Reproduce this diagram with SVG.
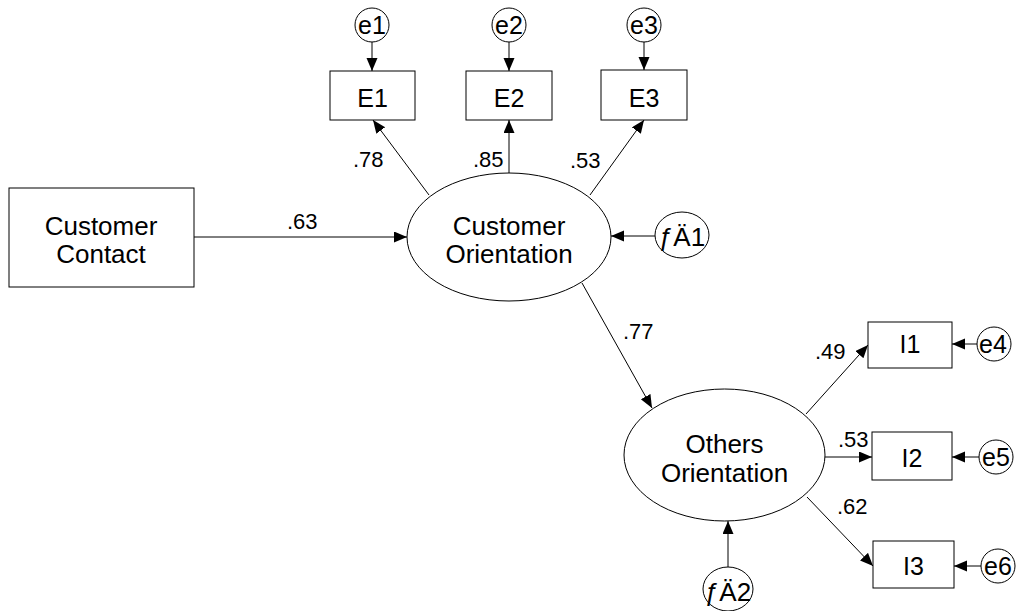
<svg xmlns="http://www.w3.org/2000/svg" width="1017" height="611" viewBox="0 0 1017 611">
<style>
.n{fill:#fff;stroke:#000;stroke-width:1}
.t{font-family:"Liberation Sans",Arial,sans-serif;fill:#000;text-anchor:middle}
.big{font-size:26px}
.mid{font-size:25px}
.lab{font-family:"Liberation Sans",Arial,sans-serif;font-size:22px;fill:#000}
.c{stroke:#000;stroke-width:1;fill:none;marker-end:url(#ah)}
</style>
<defs>
<marker id="ah" markerUnits="userSpaceOnUse" markerWidth="14" markerHeight="12" refX="13" refY="5.5" orient="auto">
<path d="M0,0 L13,5.5 L0,11 z" fill="#000"/>
</marker>
</defs>
<rect width="1017" height="611" fill="#fff"/>
<g id="connectors">
<line class="c" x1="194" y1="237" x2="407" y2="237"/>
<line class="c" x1="372" y1="42" x2="372" y2="71"/>
<line class="c" x1="509" y1="42" x2="509" y2="71"/>
<line class="c" x1="644" y1="42" x2="644" y2="70"/>
<line class="c" x1="429" y1="195" x2="373" y2="120"/>
<line class="c" x1="509" y1="173" x2="509" y2="120"/>
<line class="c" x1="590" y1="195" x2="644" y2="120"/>
<line class="c" x1="655" y1="236" x2="611" y2="236"/>
<line class="c" x1="582" y1="283" x2="652" y2="408"/>
<line class="c" x1="806" y1="414" x2="868" y2="345"/>
<line class="c" x1="825" y1="457" x2="872" y2="457"/>
<line class="c" x1="807" y1="497" x2="873" y2="566"/>
<line class="c" x1="977" y1="344" x2="952" y2="344"/>
<line class="c" x1="979" y1="457" x2="952" y2="457"/>
<line class="c" x1="981" y1="566" x2="954" y2="566"/>
<line class="c" x1="728" y1="567" x2="728" y2="521"/>
<text class="lab" x="353" y="167">.78</text>
<text class="lab" x="473" y="167">.85</text>
<text class="lab" x="570" y="168">.53</text>
<text class="lab" x="287" y="229">.63</text>
<text class="lab" x="623" y="339">.77</text>
<text class="lab" x="815" y="359">.49</text>
<text class="lab" x="838" y="447">.53</text>
<text class="lab" x="837" y="514">.62</text>
</g>
<g id="CustomerContact"><rect class="n" x="9" y="188" width="185" height="99"/><text class="t big" x="101" y="235">Customer</text><text class="t big" x="101" y="263">Contact</text></g>
<g id="CustomerOrientation"><ellipse class="n" cx="509" cy="237" rx="102" ry="64"/><text class="t big" x="509" y="235">Customer</text><text class="t big" x="509" y="263">Orientation</text></g>
<g id="OthersOrientation"><ellipse class="n" cx="724.5" cy="455" rx="100.5" ry="66"/><text class="t big" x="724.5" y="453">Others</text><text class="t big" x="724.5" y="482">Orientation</text></g>
<g id="E1"><rect class="n" x="330" y="71" width="85" height="49"/><text class="t mid" x="372.5" y="107">E1</text></g>
<g id="E2"><rect class="n" x="466" y="71" width="86" height="49"/><text class="t mid" x="509" y="107">E2</text></g>
<g id="E3"><rect class="n" x="601" y="70" width="86" height="50"/><text class="t mid" x="644" y="107">E3</text></g>
<g id="I1"><rect class="n" x="868" y="322" width="84" height="46"/><text class="t mid" x="910" y="353">I1</text></g>
<g id="I2"><rect class="n" x="872" y="432" width="80" height="48"/><text class="t mid" x="912" y="467">I2</text></g>
<g id="I3"><rect class="n" x="873" y="541" width="81" height="47"/><text class="t mid" x="913.5" y="575">I3</text></g>
<g id="e1"><circle class="n" cx="372" cy="25" r="17"/><text class="t mid" x="372" y="34">e1</text></g>
<g id="e2"><circle class="n" cx="509" cy="25" r="17"/><text class="t mid" x="509" y="34">e2</text></g>
<g id="e3"><circle class="n" cx="644" cy="25" r="17"/><text class="t mid" x="644" y="34">e3</text></g>
<g id="e4"><circle class="n" cx="994" cy="344" r="17"/><text class="t mid" x="993" y="353">e4</text></g>
<g id="e5"><circle class="n" cx="996" cy="457" r="17"/><text class="t mid" x="996" y="466">e5</text></g>
<g id="e6"><circle class="n" cx="998" cy="566" r="17"/><text class="t mid" x="998" y="575">e6</text></g>
<g id="z1"><ellipse class="n" cx="682" cy="235" rx="27" ry="23"/><text class="t big" x="682" y="246">ƒÄ1</text></g>
<g id="z2"><ellipse class="n" cx="728" cy="589" rx="25" ry="22"/><text class="t big" x="728" y="601">ƒÄ2</text></g>
</svg>
